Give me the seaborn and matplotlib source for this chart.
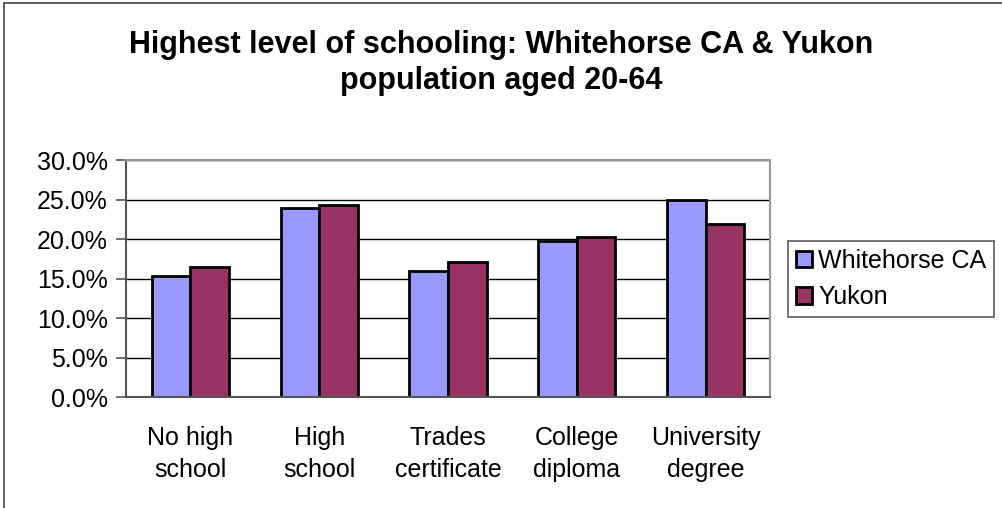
import matplotlib.pyplot as plt
import numpy as np
import pandas as pd
import seaborn as sns
from matplotlib.patches import Rectangle
from matplotlib.ticker import PercentFormatter

categories = ['No high\nschool', 'High\nschool', 'Trades\ncertificate', 'College\ndiploma', 'University\ndegree']
whitehorse = [15.3, 23.9, 15.9, 19.8, 25.0]
yukon = [16.5, 24.3, 17.1, 20.2, 21.9]
series = ['Whitehorse CA', 'Yukon']
colors = ['#9999FF', '#993366']

sns.set_style('white')
plt.rcParams['font.family'] = ['Liberation Sans', 'DejaVu Sans']
plt.rcParams['text.color'] = 'black'
plt.rcParams['xtick.color'] = 'black'
plt.rcParams['ytick.color'] = 'black'

df = pd.DataFrame({
    'category': categories * 2,
    'value': whitehorse + yukon,
    'series': [series[0]] * len(categories) + [series[1]] * len(categories),
})

fig = plt.figure(figsize=(10.02, 5.08), dpi=100)
ax = fig.add_axes([0.1257, 0.2185, 0.6428, 0.4665])

sns.barplot(data=df, x='category', y='value', hue='series', palette=colors,
            saturation=1, width=0.6, edgecolor='black', linewidth=2, ax=ax, legend=True)

ax.set_ylim(0, 30)
ax.set_xlim(-0.5, len(categories) - 0.5)
ax.set_yticks(np.arange(0, 31, 5))
ax.yaxis.set_major_formatter(PercentFormatter(decimals=1))
ax.grid(axis='y', color='black', lw=1)
ax.set_axisbelow(True)
ax.set_xlabel('')
ax.set_ylabel('')

# category boundary ticks like a spreadsheet chart
ax.set_xticks(np.arange(len(categories)))
ax.set_xticks(np.arange(-0.5, len(categories)), minor=True)
ax.tick_params(axis='x', which='major', length=0, pad=21, labelsize=18)
ax.tick_params(axis='x', which='minor', length=7, width=1.2, color='#555555')
ax.tick_params(axis='y', length=7, width=1.2, color='#555555', labelsize=18, pad=6, left=True)
for lbl in ax.get_xticklabels():
    lbl.set_linespacing(1.4)

for side in ['top', 'right']:
    ax.spines[side].set_color('#999999')
    ax.spines[side].set_linewidth(1.5)
for side in ['left', 'bottom']:
    ax.spines[side].set_color('#555555')
    ax.spines[side].set_linewidth(1.5)

leg = ax.legend(loc='center left', bbox_to_anchor=(788 / 1002, 1 - 279 / 508),
                bbox_transform=fig.transFigure, frameon=True, fancybox=False,
                fontsize=18, handlelength=0.65, handleheight=0.65, handletextpad=0.25,
                borderpad=0.3, labelspacing=0.5, borderaxespad=0)
leg.get_frame().set_edgecolor('#333333')
leg.get_frame().set_linewidth(1.2)
for h in leg.legend_handles:
    h.set_edgecolor('black')
    h.set_linewidth(2)

fig.text(0.5, 1 - 45 / 508, 'Highest level of schooling: Whitehorse CA & Yukon',
         ha='center', va='center', fontsize=22, fontweight='bold')
fig.text(0.5, 1 - 81 / 508, 'population aged 20-64',
         ha='center', va='center', fontsize=22, fontweight='bold')

# outer chart frame
fig.patches.append(Rectangle((0.004, -0.1), 1.1, 1.094, transform=fig.transFigure,
                             fill=False, edgecolor='#444444', lw=1.2))

fig.savefig('out.png', dpi=100)
